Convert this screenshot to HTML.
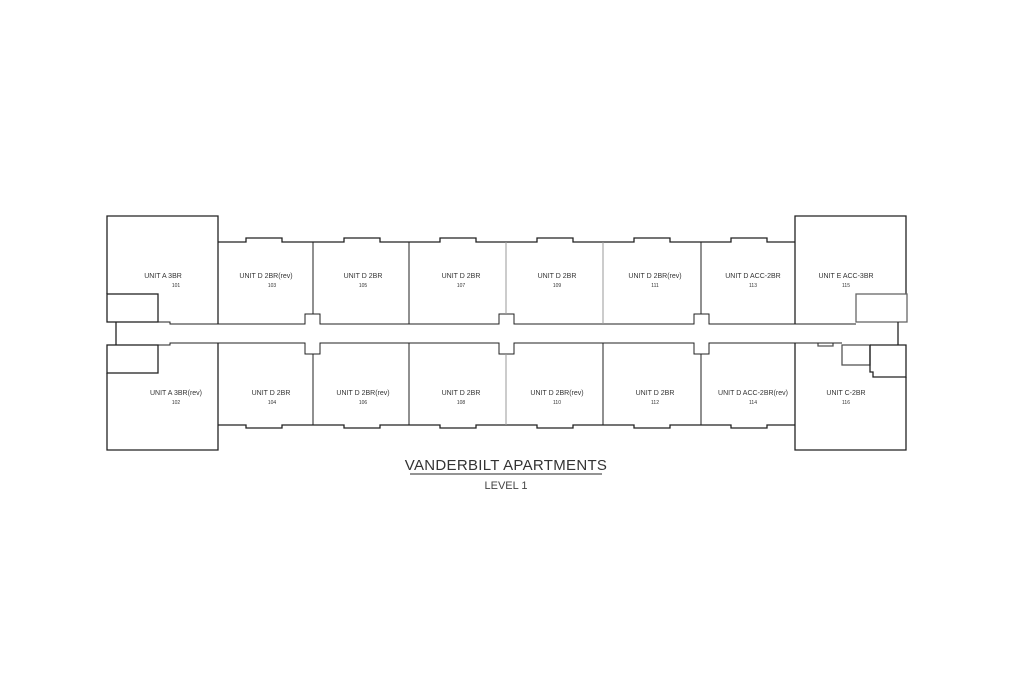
<!DOCTYPE html>
<html><head><meta charset="utf-8"><style>
html,body{margin:0;padding:0;background:#fff}
svg{display:block}
text{font-family:"Liberation Sans",sans-serif;fill:#333;text-anchor:middle}
.n{font-size:7px}.m{font-size:5px}
</style></head><body>
<svg width="1024" height="679" viewBox="0 0 1024 679" xmlns="http://www.w3.org/2000/svg">
<g fill="none" stroke="#222" stroke-width="1.3">
<!-- left block -->
<polyline points="107,294 107,216 218,216 218,242"/>
<polyline points="107,373 107,450 218,450 218,425"/>
<rect x="107" y="294" width="51" height="28"/>
<rect x="107" y="345" width="51" height="28"/>
<polyline points="116,322 116,345"/>
<!-- right block -->
<polyline points="795,242 795,216 906,216 906,294"/>
<polyline points="795,425 795,450 906,450 906,377"/>
<rect x="856" y="294" width="51" height="28" stroke="#666"/>
<polyline points="898,322 898,345"/>
<rect x="842" y="345" width="28" height="20" stroke="#555"/>
<polyline points="870,345 906,345 906,377 873,377 873,372 870,372 870,345"/>
<polyline points="818,343 818,346 833,346 833,343" stroke="#555"/>
<!-- top unit line with bumps -->
<polyline points="218,242 246,242 246,238 282,238 282,242 344,242 344,238 380,238 380,242 440,242 440,238 476,238 476,242 537,242 537,238 573,238 573,242 634,242 634,238 670,238 670,242 731,242 731,238 767,238 767,242 795,242"/>
<polyline points="218,425 246,425 246,428 282,425 282,425" stroke="none"/>
<polyline points="218,425 246,425 246,428 282,428 282,425 344,425 344,428 380,428 380,425 440,425 440,428 476,428 476,425 537,425 537,428 573,428 573,425 634,425 634,428 670,428 670,425 731,425 731,428 767,428 767,425 795,425"/>
<!-- corridor lines -->
<polyline points="158,322 170,322 170,324 305,324 305,314 320,314 320,324 499,324 499,314 514,314 514,324 694,324 694,314 709,314 709,324 856,324" stroke-width="1"/>
<polyline points="158,345 170,345 170,343 305,343 305,354 320,354 320,343 499,343 499,354 514,354 514,343 694,343 694,354 709,354 709,343 842,343" stroke-width="1"/>
<!-- dividers -->
<line x1="218" y1="242" x2="218" y2="324"/><line x1="218" y1="343" x2="218" y2="425"/>
<line x1="795" y1="242" x2="795" y2="324"/><line x1="795" y1="343" x2="795" y2="425"/>
<g stroke-width="1">
<line x1="313" y1="242" x2="313" y2="314"/><line x1="313" y1="354" x2="313" y2="425"/>
<line x1="409" y1="242" x2="409" y2="324"/><line x1="409" y1="343" x2="409" y2="425"/>
<line x1="506" y1="242" x2="506" y2="314" stroke="#999"/><line x1="506" y1="354" x2="506" y2="425" stroke="#999"/>
<line x1="603" y1="242" x2="603" y2="324" stroke="#999"/><line x1="603" y1="343" x2="603" y2="425"/>
<line x1="701" y1="242" x2="701" y2="314"/><line x1="701" y1="354" x2="701" y2="425"/>
</g>
<line x1="410" y1="474" x2="602" y2="474" stroke="#555"/>
</g>
<g class="n">
<text x="163" y="278">UNIT A 3BR</text><text x="266" y="278">UNIT D 2BR(rev)</text><text x="363" y="278">UNIT D 2BR</text><text x="461" y="278">UNIT D 2BR</text><text x="557" y="278">UNIT D 2BR</text><text x="655" y="278">UNIT D 2BR(rev)</text><text x="753" y="278">UNIT D ACC-2BR</text><text x="846" y="278">UNIT E ACC-3BR</text>
<text x="176" y="395">UNIT A 3BR(rev)</text><text x="271" y="395">UNIT D 2BR</text><text x="363" y="395">UNIT D 2BR(rev)</text><text x="461" y="395">UNIT D 2BR</text><text x="557" y="395">UNIT D 2BR(rev)</text><text x="655" y="395">UNIT D 2BR</text><text x="753" y="395">UNIT D ACC-2BR(rev)</text><text x="846" y="395">UNIT C-2BR</text>
</g>
<g class="m">
<text x="176" y="287">101</text><text x="272" y="287">103</text><text x="363" y="287">105</text><text x="461" y="287">107</text><text x="557" y="287">109</text><text x="655" y="287">111</text><text x="753" y="287">113</text><text x="846" y="287">115</text>
<text x="176" y="404">102</text><text x="272" y="404">104</text><text x="363" y="404">106</text><text x="461" y="404">108</text><text x="557" y="404">110</text><text x="655" y="404">112</text><text x="753" y="404">114</text><text x="846" y="404">116</text>
</g>
<text x="506" y="470" style="font-size:15px;fill:#333;letter-spacing:0.3px">VANDERBILT APARTMENTS</text>
<text x="506" y="489" style="font-size:11px;fill:#444">LEVEL 1</text>
</svg>
</body></html>
